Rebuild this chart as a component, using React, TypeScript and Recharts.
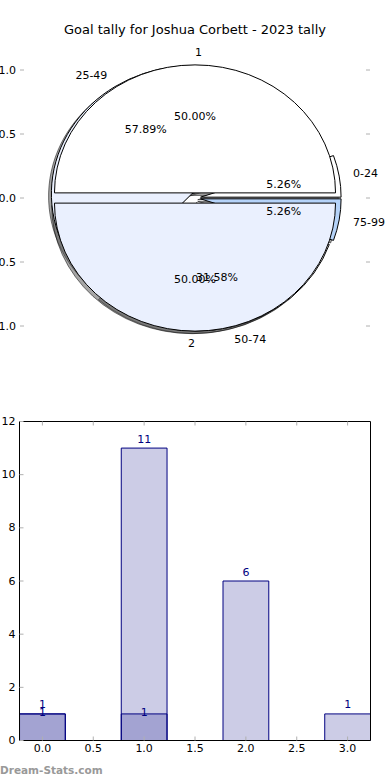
import React from 'react';
import { PieChart, Pie, ComposedChart, Line, BarChart, Bar, XAxis, YAxis, LabelList } from 'recharts';

const title = 'Goal tally for Joshua Corbett - 2023 tally';
const watermark = 'Dream-Stats.com';

// outer ring: games with 1 goal / 2 goals
const gameLabels = ['1', '2'];
const gameCounts = [1, 1];

// inner ring: goals by minute range
const minuteBins = ['0-24', '25-49', '50-74', '75-99'];
const minuteGoals = [1, 11, 6, 1];

// matplotlib axes left behind the pie
const pieTicks = [-1, -0.5, 0, 0.5, 1];

const barX = [0, 1, 2, 3];
const barTotals = [1, 11, 6, 1];
const barSecond = [1, 1, 0, 0];
const barXTicks = [0, 0.5, 1, 1.5, 2, 2.5, 3];
const barYTicks = [0, 2, 4, 6, 8, 10, 12];

const FONT = '"DejaVu Sans", sans-serif';
const gameColors = ['#ffffff', '#eaf0fe'];
const minuteColors = ['#ffffff', '#eaf0fe', '#ffffff', '#b5d3f9'];
const EXPLODE = 0.04;
const ASPECT = 1.098; // the pie axes are not square, so the pie is an ellipse
const RAD = Math.PI / 180;
const TICK_GRAY = '#b0b0b0';
const NAVY = '#000080';

const X_MIN = -0.225;
const X_MAX = 3.225;
const BAR_UNITS = 0.45;
const BAR_PLOT_W = 351;
const BAR_PX = (BAR_UNITS * BAR_PLOT_W) / (X_MAX - X_MIN);

const gameData = gameLabels.map((name, i) => ({ name, value: gameCounts[i] }));
const minuteData = minuteBins.map((name, i) => ({ name, value: minuteGoals[i] }));
const barData = barX.map((x, i) => ({ x, total: barTotals[i], second: barSecond[i] }));
const pieAxisData = pieTicks.map((v) => ({ v }));

function wedgePath(cx: number, cy: number, rx: number, ry: number, a0: number, a1: number) {
  const pt = (a: number) => [cx + rx * Math.cos(a * RAD), cy - ry * Math.sin(a * RAD)];
  const [x0, y0] = pt(a0);
  const [xm, ym] = pt((a0 + a1) / 2);
  const [x1, y1] = pt(a1);
  return `M${cx},${cy}L${x0},${y0}A${rx},${ry} 0 0 0 ${xm},${ym}A${rx},${ry} 0 0 0 ${x1},${y1}Z`;
}

// draws the wedge layers through the pie's label hook so the sectors can be elliptical
const pieLayer = (mode: 'shadow' | 'wedge' | 'text', colors: string[]) => (p: any) => {
  const ry = p.outerRadius;
  const rx = ry * ASPECT;
  const m = p.midAngle * RAD;
  const cx = p.cx + EXPLODE * rx * Math.cos(m);
  const cy = p.cy - EXPLODE * ry * Math.sin(m);
  if (mode === 'shadow') {
    return (
      <path
        d={wedgePath(cx - 0.02 * rx, cy + 0.02 * ry, rx, ry, p.startAngle, p.endAngle)}
        fill="#4d4d4d"
        fillOpacity={0.5}
        stroke="#000"
        strokeOpacity={0.5}
      />
    );
  }
  if (mode === 'wedge') {
    return (
      <path
        d={wedgePath(cx, cy, rx, ry, p.startAngle, p.endAngle)}
        fill={colors[p.index]}
        stroke="#000"
        strokeWidth={1}
      />
    );
  }
  const c = Math.cos(m);
  const s = Math.sin(m);
  return (
    <g fontFamily={FONT} fontSize={11} fill="#000">
      <text
        x={cx + 1.1 * rx * c}
        y={cy - 1.1 * ry * s}
        textAnchor={c > 0 ? 'start' : 'end'}
        dominantBaseline="central"
      >
        {p.name}
      </text>
      <text x={cx + 0.6 * rx * c} y={cy - 0.6 * ry * s} textAnchor="middle" dominantBaseline="central">
        {(p.percent * 100).toFixed(2)}%
      </text>
    </g>
  );
};

const fmtSigned = (v: number) => (v < 0 ? '\u2212' : '') + Math.abs(v).toFixed(1);

const LeftTick = (props: any) => {
  const { x, y, payload, fmt } = props;
  return (
    <g>
      <line x1={x} x2={x + 4} y1={y} y2={y} stroke={TICK_GRAY} />
      <text x={x - 4} y={y} textAnchor="end" dominantBaseline="central" fontFamily={FONT} fontSize={11} fill="#000">
        {fmt(payload.value)}
      </text>
    </g>
  );
};

const RightTick = (props: any) => (
  <line x1={props.x - 4} x2={props.x} y1={props.y} y2={props.y} stroke={TICK_GRAY} />
);

const BottomTick = (props: any) => {
  const { x, y, payload } = props;
  return (
    <g>
      <line x1={x} x2={x} y1={y} y2={y - 4} stroke={TICK_GRAY} />
      <text x={x} y={y + 8} textAnchor="middle" dominantBaseline="central" fontFamily={FONT} fontSize={11} fill="#000">
        {payload.value.toFixed(1)}
      </text>
    </g>
  );
};

const TopTick = (props: any) => (
  <line x1={props.x} x2={props.x} y1={props.y} y2={props.y + 4} stroke={TICK_GRAY} />
);

const barLabel = (lift: number) => (p: any) => {
  const { x, y, width, value } = p;
  if (!value) return null;
  return (
    <text
      x={x + width / 2}
      y={y - lift}
      textAnchor="middle"
      dominantBaseline="central"
      fontFamily={FONT}
      fontSize={11}
      fill={NAVY}
    >
      {value}
    </text>
  );
};

const pieProps = {
  cx: 195,
  cy: 198,
  outerRadius: 128,
  startAngle: 0,
  endAngle: 360,
  dataKey: 'value',
  nameKey: 'name',
  fill: 'none',
  stroke: 'none',
  labelLine: false,
  isAnimationActive: false,
};

// axes need a non-zero size to be drawn; margins make up the 1px
const axisOff = { tickSize: 0, tickMargin: 0, tickLine: false, interval: 0 as const };

export default function App() {
  return (
    <div
      style={{
        position: 'absolute',
        left: 0,
        top: 0,
        width: 390,
        height: 780,
        background: '#fff',
        overflow: 'hidden',
        fontFamily: FONT,
      }}
    >
      <div
        style={{
          position: 'absolute',
          top: 22,
          left: 0,
          width: 390,
          textAlign: 'center',
          fontSize: 13,
          lineHeight: '16px',
          color: '#000',
        }}
      >
        {title}
      </div>

      <div style={{ position: 'absolute', top: 0, left: 0 }}>
        <ComposedChart width={390} height={390} data={pieAxisData} margin={{ top: 38, right: 19, bottom: 32, left: 19 }}>
          <XAxis hide type="number" dataKey="v" domain={[-1.245, 1.245]} />
          <YAxis
            yAxisId="l"
            type="number"
            domain={[-1.25, 1.25]}
            ticks={pieTicks}
            width={1}
            axisLine={false}
            {...axisOff}
            tick={<LeftTick fmt={fmtSigned} />}
          />
          <YAxis
            yAxisId="r"
            orientation="right"
            type="number"
            domain={[-1.25, 1.25]}
            ticks={pieTicks}
            width={1}
            axisLine={false}
            {...axisOff}
            tick={<RightTick />}
          />
          {/* invisible series so the bare axes get drawn */}
          <Line yAxisId="l" dataKey="v" stroke="none" dot={false} activeDot={false} isAnimationActive={false} />
          <Line yAxisId="r" dataKey="v" stroke="none" dot={false} activeDot={false} isAnimationActive={false} />
        </ComposedChart>
      </div>

      <div style={{ position: 'absolute', top: 0, left: 0 }}>
        <PieChart width={390} height={390} margin={{ top: 0, right: 0, bottom: 0, left: 0 }}>
          <Pie {...pieProps} data={minuteData} label={pieLayer('shadow', minuteColors)} />
          <Pie {...pieProps} data={gameData} label={pieLayer('shadow', gameColors)} />
          <Pie {...pieProps} data={minuteData} label={pieLayer('wedge', minuteColors)} />
          <Pie {...pieProps} data={gameData} label={pieLayer('wedge', gameColors)} />
          <Pie {...pieProps} data={minuteData} label={pieLayer('text', minuteColors)} />
          <Pie {...pieProps} data={gameData} label={pieLayer('text', gameColors)} />
        </PieChart>
      </div>

      <div style={{ position: 'absolute', top: 400, left: 0 }}>
        <BarChart
          width={390}
          height={380}
          data={barData}
          barSize={BAR_PX}
          margin={{ top: 20.5, right: 18.5, bottom: 38.5, left: 18.5 }}
        >
          <XAxis
            xAxisId="main"
            dataKey="x"
            type="number"
            domain={[X_MIN, X_MAX]}
            allowDataOverflow
            ticks={barXTicks}
            height={1}
            {...axisOff}
            axisLine={{ stroke: '#000' }}
            tick={<BottomTick />}
          />
          <XAxis xAxisId="over" dataKey="x" type="number" domain={[X_MIN, X_MAX]} allowDataOverflow hide />
          <XAxis
            xAxisId="top"
            orientation="top"
            dataKey="x"
            type="number"
            domain={[X_MIN, X_MAX]}
            allowDataOverflow
            ticks={barXTicks}
            height={1}
            {...axisOff}
            axisLine={{ stroke: '#000' }}
            tick={<TopTick />}
          />
          <YAxis
            yAxisId="left"
            type="number"
            domain={[0, 12]}
            ticks={barYTicks}
            width={1}
            {...axisOff}
            axisLine={{ stroke: '#000' }}
            tick={<LeftTick fmt={(v: number) => String(v)} />}
          />
          <YAxis
            yAxisId="right"
            orientation="right"
            type="number"
            domain={[0, 12]}
            ticks={barYTicks}
            width={1}
            {...axisOff}
            axisLine={{ stroke: '#000' }}
            tick={<RightTick />}
          />
          <Bar
            dataKey="total"
            xAxisId="main"
            yAxisId="left"
            fill={NAVY}
            fillOpacity={0.2}
            stroke={NAVY}
            strokeWidth={1}
            isAnimationActive={false}
          >
            <LabelList dataKey="total" content={barLabel(9)} />
          </Bar>
          <Bar
            dataKey="second"
            xAxisId="over"
            yAxisId="left"
            fill={NAVY}
            fillOpacity={0.2}
            stroke={NAVY}
            strokeWidth={1}
            isAnimationActive={false}
          >
            <LabelList dataKey="second" content={barLabel(1)} />
          </Bar>
        </BarChart>
      </div>

      <div
        style={{
          position: 'absolute',
          top: 762,
          left: 0,
          fontSize: 10.5,
          fontWeight: 'bold',
          lineHeight: '16px',
          color: '#999',
        }}
      >
        {watermark}
      </div>
    </div>
  );
}
